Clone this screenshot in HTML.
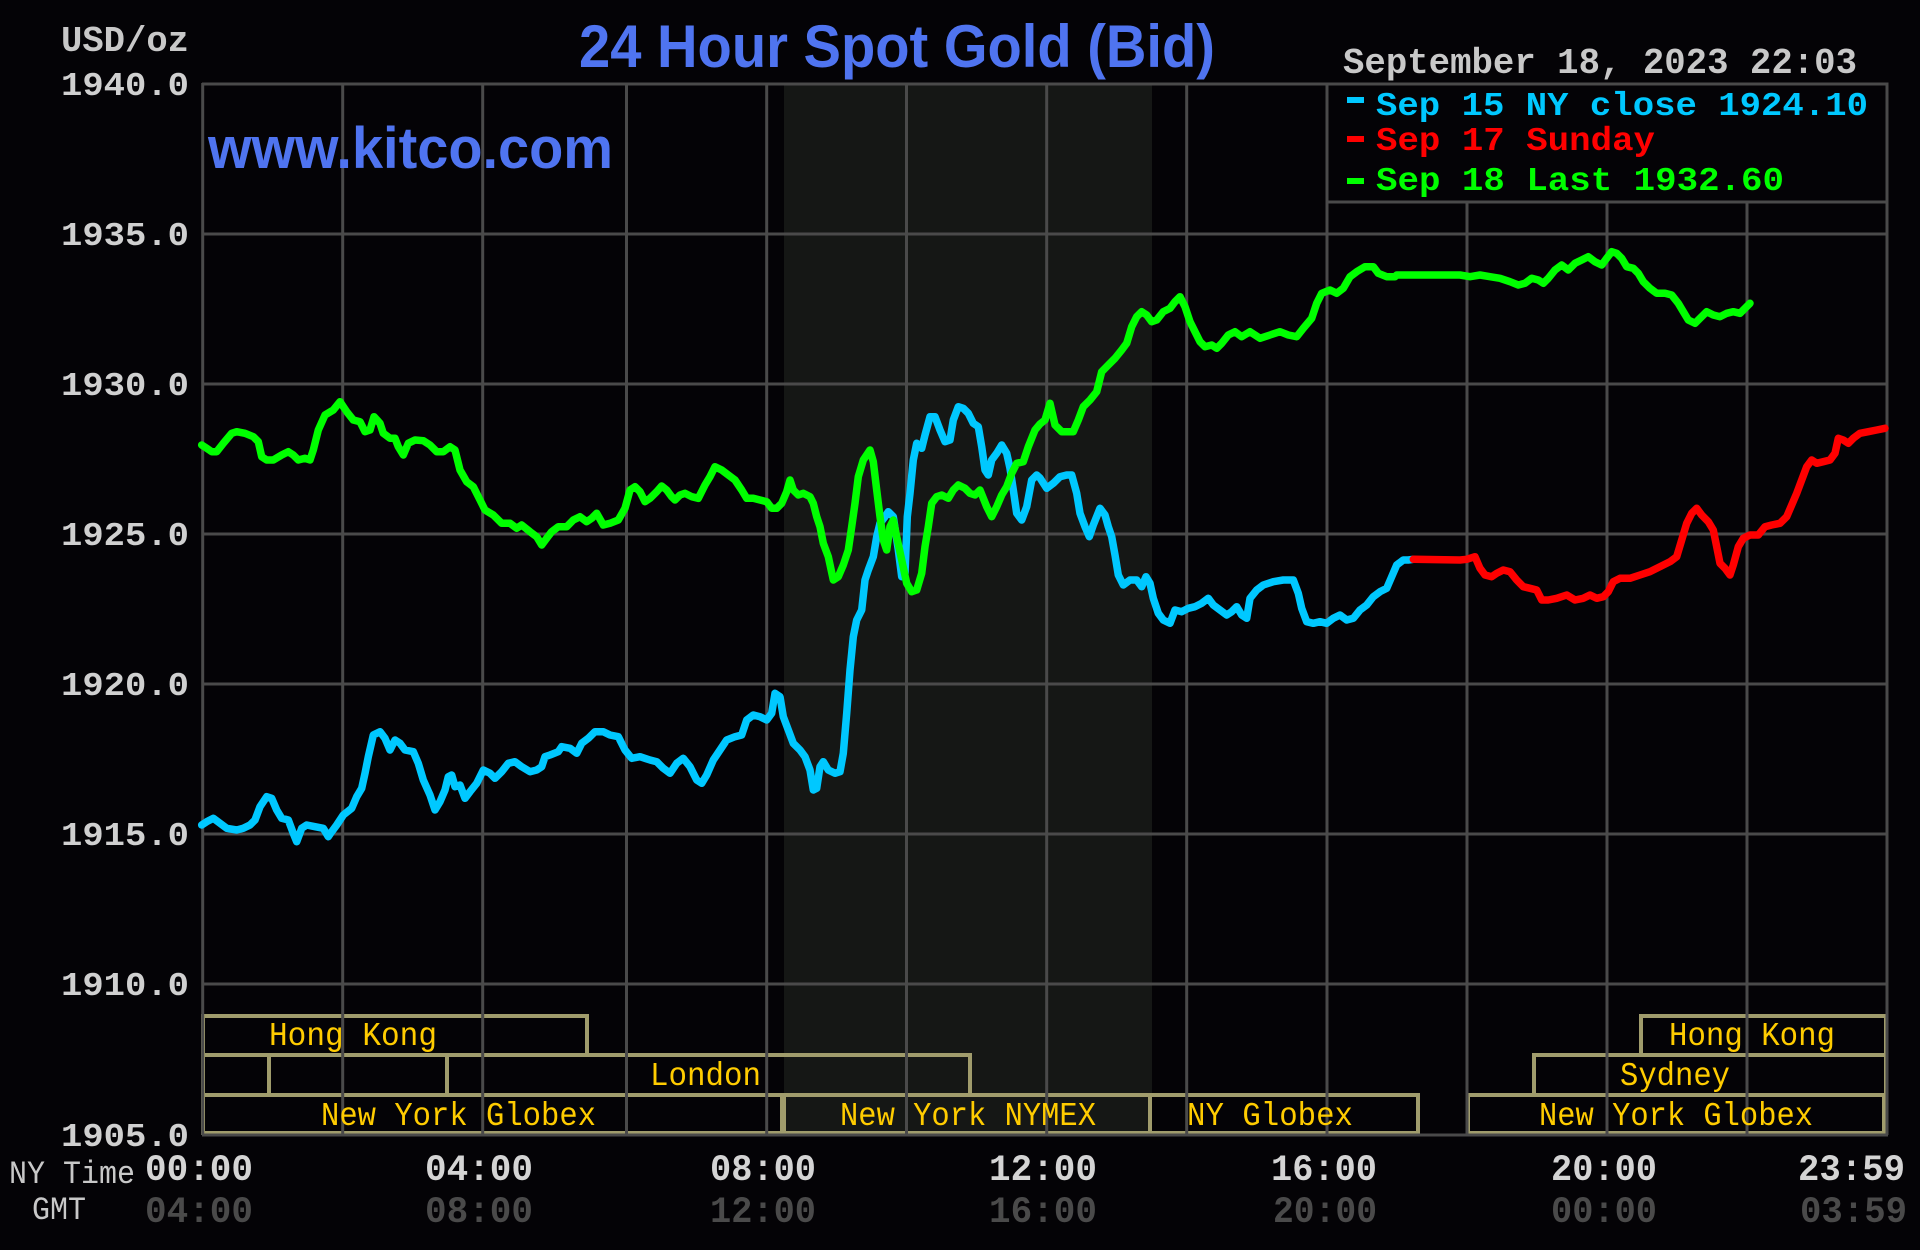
<!DOCTYPE html>
<html>
<head>
<meta charset="utf-8">
<style>
html,body{margin:0;padding:0;background:#040306;}
svg{display:block;}
.mono{font-family:"Liberation Mono",monospace;}
.sans{font-family:"Liberation Sans",sans-serif;}
</style>
</head>
<body>
<svg width="1920" height="1250" viewBox="0 0 1920 1250" xmlns="http://www.w3.org/2000/svg">
<rect x="0" y="0" width="1920" height="1250" fill="#040306"/>
<!-- NYMEX shaded region -->
<rect x="784" y="83" width="368" height="1051" fill="#151715"/>

<!-- session boxes -->
<g fill="none" stroke="#a09c6c" stroke-width="4">
<rect x="203" y="1016" width="384" height="39"/>
<rect x="1641" y="1016" width="245" height="39"/>
<rect x="203" y="1055" width="66" height="40"/>
<rect x="269" y="1055" width="178" height="40"/>
<rect x="447" y="1055" width="523" height="40"/>
<rect x="1534" y="1055" width="352" height="40"/>
<rect x="203" y="1095" width="579" height="38"/>
<rect x="784" y="1095" width="366" height="38"/>
<rect x="1150" y="1095" width="268" height="38"/>
<rect x="1468" y="1095" width="416" height="38"/>
</g>

<!-- grid -->
<g stroke="#4a4a4a" stroke-width="3">
<line x1="202.7" y1="83" x2="202.7" y2="1135"/>
<line x1="342.7" y1="83" x2="342.7" y2="1135"/>
<line x1="482.7" y1="83" x2="482.7" y2="1135"/>
<line x1="626.5" y1="83" x2="626.5" y2="1135"/>
<line x1="766.7" y1="83" x2="766.7" y2="1135"/>
<line x1="906.5" y1="83" x2="906.5" y2="1135"/>
<line x1="1046.7" y1="83" x2="1046.7" y2="1135"/>
<line x1="1186.7" y1="83" x2="1186.7" y2="1135"/>
<line x1="1327" y1="83" x2="1327" y2="1135"/>
<line x1="1467" y1="83" x2="1467" y2="1135"/>
<line x1="1607" y1="83" x2="1607" y2="1135"/>
<line x1="1747" y1="83" x2="1747" y2="1135"/>
<line x1="1887" y1="83" x2="1887" y2="1135"/>
<line x1="202" y1="84" x2="1888" y2="84"/>
<line x1="202" y1="234" x2="1888" y2="234"/>
<line x1="202" y1="384" x2="1888" y2="384"/>
<line x1="202" y1="534" x2="1888" y2="534"/>
<line x1="202" y1="684" x2="1888" y2="684"/>
<line x1="202" y1="834" x2="1888" y2="834"/>
<line x1="202" y1="984" x2="1888" y2="984"/>
<line x1="202" y1="1135" x2="1888" y2="1135"/>
</g>

<!-- legend box -->
<rect x="1327" y="84" width="560" height="118" fill="#040306" stroke="#4a4a4a" stroke-width="3"/>

<!-- series -->
<g fill="none" stroke-width="7.5" stroke-linejoin="round" stroke-linecap="round">
<polyline stroke="#00c8ff" points="201.7,825 206.7,821.7 213.3,818.3 220,823.3 226.7,828.3 236.7,830 243.3,828.3 250,825 255,820 260,806.7 266.7,796.7 271.7,798.3 276.7,810 281.7,818.3 288.3,820 293.3,833.3 296.7,841.7 301.7,828.3 306.7,825 315,826.7 323.3,828.3 328.3,836.7 331.7,831.7 336.7,825 343.3,815 351.7,808.3 356.7,796.7 361.7,788.3 365,773.3 368.3,756.7 373.3,735 380,731.7 385,738.3 390,750 395,740 400,743.3 405,750 413.3,751.7 418.3,763.3 423.3,780 430,795 435,810 440,801.7 445,790 448.3,776.7 451.7,775 455,786.7 460,785 465,798.3 470,791.7 476.7,783.3 483.3,770 490,773.3 495,778.3 501.7,771.7 508.3,763.3 515,761.7 521.7,766.7 530,771.7 536.7,770 541.7,766.7 545,756.7 550,755 558.3,751.7 561.7,746.7 570,748.3 576.7,753.3 581.7,743.3 588.3,738.3 595,731.7 603.3,731.7 610,735 618.3,736.7 625,750 631.7,758.3 640,756.7 650,760 656.7,761.7 663.3,768.3 670,773.3 676.7,763.3 683.3,758.3 690,766.7 696.7,780 701.7,783.3 706.7,775 713.3,760 720,750 726.7,740 735,736.7 741.7,735 746.7,720 753.3,715 760,716.7 766.7,720 771.7,713.3 775,693.3 780,696.7 783.3,716.7 788.3,730 793.3,743.3 800,750 805,756.7 810,770 813.3,790 816.7,788.3 820,766.7 823.3,761.7 828.3,770 835,773.3 840,771.7 843.3,753.3 846.7,713.3 850,670 853.3,636.7 856.7,620 861.7,610 865,580 868.3,570 873.3,556.7 876.7,536.7 880,523.3 885,516.7 888.3,511.7 893.3,516.7 898.3,550 901.7,576.7 905,573.3 907.3,516.7 910,493.3 913.3,460 916.7,443.3 921.7,448.3 925,435 930,416.7 935,416.7 940,430 945,441.7 950,440 953.3,420 958.3,406.7 963.3,408.3 968.3,413.3 973.3,423.3 978.3,426.7 981.7,446.7 985,470 988.3,475 991.7,460 996.7,453.3 1001.7,445 1006.7,453.3 1010,468.3 1013.3,490 1016.7,513.3 1021.7,520 1026.7,506.7 1031.7,480 1036.7,475 1040,478 1046.7,488.3 1053.3,483.3 1060,476.7 1066.7,475 1071.7,475 1076.7,493.3 1080,513.3 1085,526.7 1089.3,536.7 1093.3,525 1100,508.3 1105,515 1108.3,526.7 1111.7,536.7 1115,555 1118.3,575 1123.3,585 1130,580 1136.7,580 1141.7,586.7 1146,576.7 1150,583.3 1153.3,598.3 1158.3,613.3 1163.3,620 1170,623.3 1175,610 1181.7,611.7 1188.3,608.3 1195,606.7 1201.7,603.3 1208.3,598.3 1213.3,605 1220,610 1226.7,615 1231.7,611.7 1236.7,606.7 1241.7,615 1246.7,618.3 1250,598.3 1256.7,590 1263.3,585 1273.3,581.7 1283.3,580 1293.3,580 1298.3,593.3 1301.7,608.3 1306.7,621.7 1313.3,623.3 1320,621.7 1326.7,623.3 1333.3,618.3 1340,615 1346.7,620 1353.3,618.3 1360,610 1366.7,605 1373.3,596.7 1380,591.7 1386.7,588.3 1391.7,576.7 1396.7,565 1403.3,560 1408.3,560 1413.3,559.3"/>
<polyline stroke="#ff0000" points="1413.3,559.3 1460,560 1466.7,559.3 1475,556.7 1480,568.3 1485,575 1491.7,576.7 1496.7,573.3 1503.3,570 1510,571.7 1516.7,580 1523.3,586.7 1530,588.3 1536.7,590 1541.7,600 1548.3,600 1556.7,598.3 1566.7,595 1575,600 1583.3,598.3 1590,595 1596.7,598.3 1603.3,596.7 1608.3,591.7 1613.3,581.7 1620,578.3 1630,578.3 1640,575 1650,571.7 1660,566.7 1670,561.7 1676.7,556.7 1681.7,540 1686.7,523.3 1691.7,513.3 1696.7,508.3 1701.7,515 1708.3,521.7 1713.3,530 1716.7,546.7 1720,563.3 1725,568.3 1730,575 1733.3,565 1738.3,546.7 1743.3,538.3 1750,535 1758.3,535 1765,526.7 1771.7,525 1780,523.3 1786.7,516.7 1791.7,505 1796.7,493.3 1801.7,480 1806.7,466.7 1811.7,460 1816.7,463.3 1823.3,461.7 1830,460 1835,453.3 1838.3,438.3 1843.3,440 1848.3,443.3 1853.3,438.3 1860,433.3 1868.3,431.7 1876.7,430 1885,428.3"/>
<polyline stroke="#00ff00" points="201.7,445 206.7,448.3 211.7,451.7 216.7,451.7 223.3,443.3 231.7,433.3 236.7,431.7 245,433.3 253.3,436.7 258.3,441.7 261.7,456.7 266.7,460 273.3,460 281.7,455 288.3,451.7 293.3,455 298.3,460 305,458.3 310,460 313.3,450 318.3,430 325,415 333.3,410 340,401.7 346.7,411.7 353.3,420 360,421.7 365,431.7 370,430 374,416.7 380,423.3 383.3,433.3 390,438.3 395,438.3 398.3,446.7 403.3,455 408.3,443.3 415,440 423.3,440.7 430,445 436.7,451.7 443.3,451.7 450,446.7 455,450 460,470 466.7,481.7 473.3,486.7 480,500 485,510 493.3,515 501.7,523.3 510,523.3 516.7,528.3 521.7,525 530,531.7 536.7,536.7 541.7,545 546.7,538.3 551.7,531.7 558.3,526.7 566.7,526.7 573.3,520 580,516.7 586.7,521.7 591.7,518.3 596.7,513.3 603.3,525 610,523.3 618.3,520 625,508.3 630,490 635,486.7 640,491.7 645,501.7 650,498.3 656.7,491.7 661.7,486 666.7,490 671.7,496.7 675,500 680,495 685,493.3 691.7,496.7 698.3,498.3 705,485 710,476.7 715,466.7 721.7,470 728.3,475 735,480 741.7,490 746.7,498.3 753.3,498.3 760,500 766.7,501.7 771.7,508.3 776.7,508.3 781.7,503.3 786.7,491.7 790,480 793.3,490 798.3,495 803.3,493.3 810,496.7 813.3,503.3 816.7,516.7 820,526.7 823.3,543.3 828.3,556.7 833.3,580 838.3,576.7 843.3,565 848.3,550 851.7,526.7 855,503.3 858.3,476.7 863.3,460 870,450 873.3,461.7 876.7,490 880,516.7 883.3,540 886.7,550 890,526.7 893.3,520 896.7,536.7 901.7,560 906.7,583.3 911.7,591.7 916.7,590 921.7,573.3 925,546.7 928.3,526.7 931.7,503.3 936.7,496.7 941.7,495 948.3,498.3 953.3,490 958.3,485 965,488.3 970,493.3 975,495 980,490 986.7,506.7 991.7,516.7 996.7,506.7 1001.7,495 1006.7,486.7 1011.7,473.3 1016.7,463.3 1023.3,461.7 1028.3,446.7 1035,430 1040,424 1045,420 1050,403.3 1055,425 1061.7,431.7 1073.3,431.7 1078.3,420 1083.3,406.7 1090,400 1096.7,391.7 1101.7,371.7 1108.3,365 1115,358.3 1121.7,350 1126.7,343.3 1131.7,326.7 1136.7,316.7 1141.7,311.7 1146.7,315 1151.7,321.7 1156.7,320 1163.3,311.7 1170,308.3 1175,301.7 1180,296.7 1185,306.7 1190,321.7 1195,331.7 1200,341.7 1205,346.7 1211.7,345 1216.7,348.3 1221.7,343.3 1228.3,335 1235,331.7 1241.7,336.7 1250,331.7 1260,338.3 1270,335 1280,331.7 1288.3,335 1296.7,336.7 1303.3,328.3 1311.7,318.3 1316.7,303.3 1321.7,293.3 1330,290 1336.7,293.3 1343.3,288.3 1350,276.7 1356.7,271.7 1365,266.7 1373.3,266.7 1378.3,273.3 1386.7,276.7 1395,276.7 1396.7,275 1460,275 1470,276.7 1480,275 1490,276.7 1500,278.3 1510,281.7 1518.3,285 1525,283.3 1531.7,278.3 1538.3,280 1543.3,283.3 1548.3,278.3 1555,270 1561.7,265 1568.3,270 1575,263.3 1581.7,260 1588.3,256.7 1595,261.7 1601.7,265 1606.7,258.3 1611.7,251.7 1616.7,253.3 1621.7,258.3 1626.7,266.7 1633.3,268.3 1638.3,273.3 1643.3,281.7 1650,288.3 1656.7,293.3 1665,293.3 1671.7,295 1678.3,303.3 1683.3,311.7 1688.3,320 1695,323.3 1700,318.3 1706.7,311.7 1713.3,315 1720,316.7 1726.7,313.3 1733.3,311.7 1740,313.3 1745,308.3 1750,303.3"/>
</g>

<!-- title & watermark -->
<text class="sans" x="579" y="67" font-size="60" font-weight="bold" fill="#4f74f0" textLength="636" lengthAdjust="spacingAndGlyphs">24 Hour Spot Gold (Bid)</text>
<text class="sans" x="208" y="168" font-size="58" font-weight="bold" fill="#4f74f0" textLength="405" lengthAdjust="spacingAndGlyphs">www.kitco.com</text>

<!-- top labels -->
<text class="mono" x="61" y="51" font-size="36" font-weight="bold" fill="#c8c8c8" textLength="128" lengthAdjust="spacingAndGlyphs">USD/oz</text>
<text class="mono" x="1343" y="73" font-size="36" font-weight="bold" fill="#c8c8c8" textLength="514" lengthAdjust="spacingAndGlyphs">September 18, 2023 22:03</text>

<!-- y labels -->
<g class="mono" font-size="33" font-weight="bold" fill="#d0d0d0">
<text x="61" y="95" textLength="128" lengthAdjust="spacingAndGlyphs">1940.0</text>
<text x="61" y="245" textLength="128" lengthAdjust="spacingAndGlyphs">1935.0</text>
<text x="61" y="395" textLength="128" lengthAdjust="spacingAndGlyphs">1930.0</text>
<text x="61" y="545" textLength="128" lengthAdjust="spacingAndGlyphs">1925.0</text>
<text x="61" y="695" textLength="128" lengthAdjust="spacingAndGlyphs">1920.0</text>
<text x="61" y="845" textLength="128" lengthAdjust="spacingAndGlyphs">1915.0</text>
<text x="61" y="995" textLength="128" lengthAdjust="spacingAndGlyphs">1910.0</text>
<text x="61" y="1146" textLength="128" lengthAdjust="spacingAndGlyphs">1905.0</text>
</g>

<!-- legend -->
<rect x="1347" y="97" width="17" height="6" fill="#00c8ff"/>
<rect x="1347" y="136" width="17" height="6" fill="#ff0000"/>
<rect x="1347" y="178" width="17" height="6" fill="#00ff00"/>
<g class="mono" font-size="33" font-weight="bold">
<text x="1376" y="115" fill="#00c8ff" textLength="492" lengthAdjust="spacingAndGlyphs">Sep 15 NY close 1924.10</text>
<text x="1376" y="150" fill="#ff0000" textLength="279" lengthAdjust="spacingAndGlyphs">Sep 17 Sunday</text>
<text x="1376" y="190" fill="#00ff00" textLength="408" lengthAdjust="spacingAndGlyphs">Sep 18 Last 1932.60</text>
</g>

<!-- session labels -->
<g class="mono" font-size="33" fill="#ffcc00">
<text x="269" y="1045" textLength="168" lengthAdjust="spacingAndGlyphs">Hong Kong</text>
<text x="650" y="1085" textLength="111" lengthAdjust="spacingAndGlyphs">London</text>
<text x="321" y="1125" textLength="275" lengthAdjust="spacingAndGlyphs">New York Globex</text>
<text x="840" y="1125" textLength="256" lengthAdjust="spacingAndGlyphs">New York NYMEX</text>
<text x="1187" y="1125" textLength="166" lengthAdjust="spacingAndGlyphs">NY Globex</text>
<text x="1539" y="1125" textLength="274" lengthAdjust="spacingAndGlyphs">New York Globex</text>
<text x="1669" y="1045" textLength="166" lengthAdjust="spacingAndGlyphs">Hong Kong</text>
<text x="1620" y="1085" textLength="110" lengthAdjust="spacingAndGlyphs">Sydney</text>
</g>

<!-- time axis -->
<g class="mono" font-size="32" fill="#c8c8c8">
<text x="9" y="1183" textLength="126" lengthAdjust="spacingAndGlyphs">NY Time</text>
<text x="32" y="1219" textLength="54" lengthAdjust="spacingAndGlyphs">GMT</text>
</g>
<g class="mono" font-size="37" font-weight="bold" fill="#d4d4d4">
<text x="145" y="1180" textLength="108" lengthAdjust="spacingAndGlyphs">00:00</text>
<text x="425" y="1180" textLength="108" lengthAdjust="spacingAndGlyphs">04:00</text>
<text x="710" y="1180" textLength="106" lengthAdjust="spacingAndGlyphs">08:00</text>
<text x="989" y="1180" textLength="108" lengthAdjust="spacingAndGlyphs">12:00</text>
<text x="1271" y="1180" textLength="106" lengthAdjust="spacingAndGlyphs">16:00</text>
<text x="1551" y="1180" textLength="106" lengthAdjust="spacingAndGlyphs">20:00</text>
<text x="1798" y="1180" textLength="107" lengthAdjust="spacingAndGlyphs">23:59</text>
</g>
<g class="mono" font-size="37" font-weight="bold" fill="#4a4a4a">
<text x="145" y="1222" textLength="108" lengthAdjust="spacingAndGlyphs">04:00</text>
<text x="425" y="1222" textLength="108" lengthAdjust="spacingAndGlyphs">08:00</text>
<text x="710" y="1222" textLength="106" lengthAdjust="spacingAndGlyphs">12:00</text>
<text x="989" y="1222" textLength="108" lengthAdjust="spacingAndGlyphs">16:00</text>
<text x="1273" y="1222" textLength="104" lengthAdjust="spacingAndGlyphs">20:00</text>
<text x="1551" y="1222" textLength="106" lengthAdjust="spacingAndGlyphs">00:00</text>
<text x="1800" y="1222" textLength="107" lengthAdjust="spacingAndGlyphs">03:59</text>
</g>
</svg>
</body>
</html>
